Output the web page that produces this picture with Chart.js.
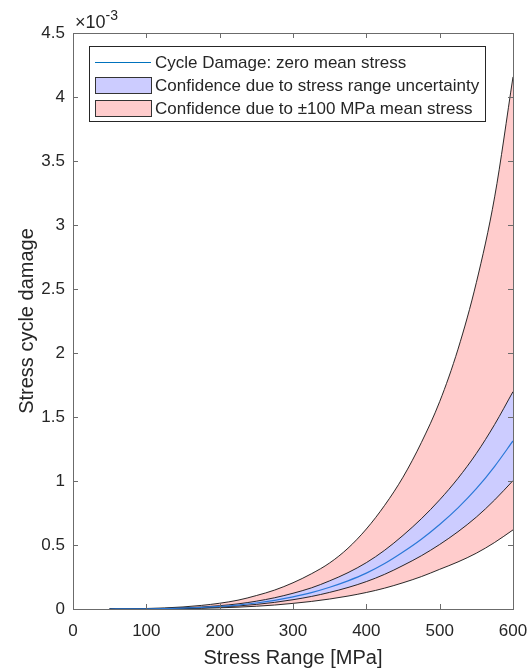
<!DOCTYPE html>
<html>
<head>
<meta charset="utf-8">
<script src="https://cdn.jsdelivr.net/npm/chart.js@4"></script>
<style>
  html, body { margin: 0; padding: 0; background: #fff; }
  #wrap { width: 530px; height: 670px; }
</style>
</head>
<body>
<div id="wrap"><canvas id="chart-damage" width="530" height="670"></canvas></div>
<script>
// Stress range grid [MPa]
const stressRange = [50, 75, 100, 125, 150, 175, 200, 225, 250, 275, 300, 325,
  350, 375, 400, 425, 450, 475, 500, 525, 550, 575, 600];

// Cycle damage, in units of 1e-3
const damageZeroMean = [0.0001, 0.0005, 0.0015, 0.0034, 0.0068, 0.012, 0.020, 0.031, 0.047, 0.068,
  0.095, 0.128, 0.17, 0.22, 0.28, 0.355, 0.445, 0.545, 0.66, 0.79, 0.94, 1.115, 1.313];
const rangeUpper = [0.00013, 0.00065, 0.0019, 0.0044, 0.0088, 0.0155, 0.026, 0.040, 0.061, 0.088,
  0.123, 0.165, 0.22, 0.284, 0.362, 0.459, 0.575, 0.705, 0.853, 1.021, 1.215, 1.442, 1.698];
const rangeLower = [0.00008, 0.00038, 0.00115, 0.0026, 0.0052, 0.0092, 0.0153, 0.0237, 0.0359, 0.052,
  0.0726, 0.0978, 0.130, 0.168, 0.214, 0.271, 0.340, 0.416, 0.504, 0.604, 0.718, 0.852, 1.003];
const meanStressUpper = [0.0003, 0.0013, 0.0038, 0.0085, 0.016, 0.028, 0.045, 0.069, 0.105, 0.148,
  0.205, 0.275, 0.36, 0.475, 0.625, 0.81, 1.03, 1.30, 1.62, 2.03, 2.55, 3.22, 4.157];
const meanStressLower = [0.00005, 0.00023, 0.0007, 0.0016, 0.0031, 0.0055, 0.0092, 0.0143, 0.0216, 0.031,
  0.044, 0.059, 0.078, 0.101, 0.129, 0.163, 0.205, 0.253, 0.31, 0.368, 0.436, 0.52, 0.618];

const xTicks = [0, 100, 200, 300, 400, 500, 600];
const yTicks = [0, 0.5, 1, 1.5, 2, 2.5, 3, 3.5, 4, 4.5];

const legendLabels = [
  'Cycle Damage: zero mean stress',
  'Confidence due to stress range uncertainty',
  'Confidence due to \u00B1100 MPa mean stress'
];

const COLORS = {
  text: '#262626',
  axis: '#6b6b6b',
  edge: 'rgba(20,20,20,0.9)',
  line: '#2a78d8',
  legendLine: '#0072bd',
  blueFill: '#ccccff',
  redFill: '#ffcccc'
};
const FONT = '"Liberation Sans", Arial, Helvetica, sans-serif';

const pts = ys => stressRange.map((x, i) => ({ x, y: ys[i] }));

function edgeSet(data, extra) {
  return Object.assign({
    data: pts(data),
    borderColor: COLORS.edge,
    borderWidth: 1,
    pointRadius: 0,
    fill: false,
    cubicInterpolationMode: 'monotone'
  }, extra || {});
}

// Box, inward ticks, titles, exponent and legend in the MATLAB look
const matlabAxes = {
  id: 'matlabAxes',
  afterDraw(chart) {
    const { ctx, chartArea: a, scales: { x, y } } = chart;
    ctx.save();
    ctx.strokeStyle = COLORS.axis;
    ctx.lineWidth = 1;
    ctx.strokeRect(Math.round(a.left) + 0.5, Math.round(a.top) + 0.5,
      Math.round(a.right - a.left), Math.round(a.bottom - a.top));

    const tl = 5;
    ctx.beginPath();
    xTicks.forEach(v => {
      const px = Math.round(x.getPixelForValue(v)) + 0.5;
      ctx.moveTo(px, a.bottom); ctx.lineTo(px, a.bottom - tl);
      ctx.moveTo(px, a.top); ctx.lineTo(px, a.top + tl);
    });
    yTicks.forEach(v => {
      const py = Math.round(y.getPixelForValue(v)) + 0.5;
      ctx.moveTo(a.left, py); ctx.lineTo(a.left + tl, py);
      ctx.moveTo(a.right, py); ctx.lineTo(a.right - tl, py);
    });
    ctx.stroke();

    // axis titles
    ctx.fillStyle = COLORS.text;
    ctx.font = '20px ' + FONT;
    ctx.textAlign = 'center';
    ctx.textBaseline = 'middle';
    ctx.fillText('Stress Range [MPa]', (a.left + a.right) / 2, 658);
    ctx.save();
    ctx.translate(27, (a.top + a.bottom) / 2);
    ctx.rotate(-Math.PI / 2);
    ctx.fillText('Stress cycle damage', 0, 0);
    ctx.restore();

    // exponent
    ctx.textAlign = 'left';
    ctx.textBaseline = 'alphabetic';
    ctx.font = '18px ' + FONT;
    ctx.fillText('\u00D710', 75, 28);
    const w = ctx.measureText('\u00D710').width;
    ctx.font = '14px ' + FONT;
    ctx.fillText('-3', 75 + w, 20);

    // legend
    const box = { l: 89, t: 46, r: 485, b: 121 };
    ctx.fillStyle = '#fff';
    ctx.fillRect(box.l, box.t, box.r - box.l, box.b - box.t);
    ctx.strokeStyle = COLORS.text;
    ctx.strokeRect(box.l + 0.5, box.t + 0.5, box.r - box.l, box.b - box.t);
    const rows = [62, 85, 108];
    ctx.strokeStyle = COLORS.legendLine;
    ctx.beginPath();
    ctx.moveTo(95, rows[0] + 0.5); ctx.lineTo(151, rows[0] + 0.5);
    ctx.stroke();
    [[COLORS.blueFill, rows[1]], [COLORS.redFill, rows[2]]].forEach(([c, ry]) => {
      ctx.fillStyle = c;
      ctx.fillRect(95, ry - 8, 56, 16);
      ctx.strokeStyle = '#333';
      ctx.strokeRect(95.5, ry - 7.5, 56, 16);
    });
    ctx.fillStyle = COLORS.text;
    ctx.font = '17px ' + FONT;
    ctx.textBaseline = 'middle';
    legendLabels.forEach((t, i) => ctx.fillText(t, 155, rows[i] + 1));
    ctx.restore();
  }
};

new Chart(document.getElementById('chart-damage').getContext('2d'), {
  type: 'line',
  data: {
    datasets: [
      edgeSet(damageZeroMean, { borderColor: COLORS.line, borderWidth: 1.2 }),
      edgeSet(rangeUpper, { fill: '+1', backgroundColor: COLORS.blueFill }),
      edgeSet(rangeLower),
      edgeSet(meanStressUpper, { fill: '+1', backgroundColor: COLORS.redFill }),
      edgeSet(meanStressLower)
    ]
  },
  options: {
    responsive: false,
    animation: false,
    devicePixelRatio: 1,
    layout: { padding: { top: 33, right: 17, left: 0, bottom: 0 } },
    plugins: {
      legend: { display: false },
      tooltip: { enabled: false },
      filler: { drawTime: 'beforeDatasetsDraw' }
    },
    scales: {
      x: {
        type: 'linear', min: 0, max: 600,
        afterBuildTicks: s => { s.ticks = xTicks.map(value => ({ value })); },
        // the edge labels may overhang the plot box
        afterFit: s => { s.height = 61; s.paddingLeft = 0; s.paddingRight = 0; },
        grid: { display: false, drawTicks: false },
        border: { display: false },
        ticks: { color: COLORS.text, font: { size: 17, family: FONT }, padding: 12, maxRotation: 0 }
      },
      y: {
        type: 'linear', min: 0, max: 4.5,
        afterBuildTicks: s => { s.ticks = yTicks.map(value => ({ value })); },
        afterFit: s => { s.width = 73; s.paddingTop = 0; s.paddingBottom = 0; },
        grid: { display: false, drawTicks: false },
        border: { display: false },
        ticks: { color: COLORS.text, font: { size: 17, family: FONT }, padding: 8, callback: v => String(v) }
      }
    }
  },
  plugins: [matlabAxes]
});
</script>
</body>
</html>
